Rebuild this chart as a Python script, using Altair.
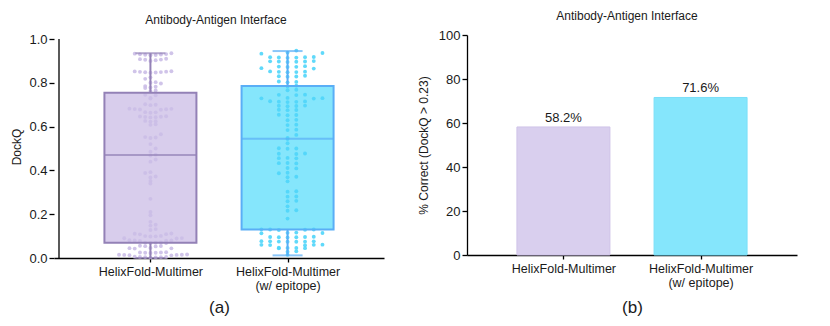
import math
import json
import altair as alt
import pandas as pd

# ---------------- data ----------------
categories = ["HelixFold-Multimer", "HelixFold-Multimer\n(w/ epitope)"]

dockq_plain = [
    0.935, 0.933, 0.931, 0.930, 0.929, 0.928, 0.927, 0.926,
    0.910, 0.908, 0.906, 0.905, 0.903, 0.900,
    0.853, 0.852, 0.851, 0.850, 0.849, 0.848, 0.847, 0.846,
    0.825, 0.818, 0.803, 0.800, 0.797,
    0.785, 0.782, 0.779, 0.776, 0.765, 0.762,
    0.745, 0.743, 0.731, 0.728, 0.702, 0.700, 0.698,
    0.682, 0.681, 0.680, 0.679, 0.678, 0.677,
    0.666, 0.665, 0.663,
    0.647, 0.646, 0.645, 0.644, 0.643, 0.642,
    0.626, 0.625, 0.623, 0.611, 0.608,
    0.565, 0.552, 0.550, 0.548, 0.520, 0.500, 0.485,
    0.472, 0.468,
    0.450, 0.440, 0.392, 0.388, 0.372, 0.368, 0.352, 0.340, 0.270,
    0.210, 0.195, 0.165, 0.152, 0.148, 0.132, 0.128,
    0.112, 0.111, 0.109, 0.108, 0.101, 0.100, 0.099, 0.098, 0.091, 0.090, 0.089,
    0.081, 0.080, 0.080, 0.079, 0.078, 0.071, 0.070, 0.070, 0.069, 0.068,
    0.056, 0.055, 0.054, 0.053, 0.046, 0.045, 0.044, 0.043,
    0.026, 0.025, 0.025, 0.024, 0.024, 0.023,
    0.016, 0.015, 0.015, 0.014, 0.014, 0.013, 0.012,
    0.006, 0.005, 0.005, 0.004, 0.004, 0.003, 0.002,
]

dockq_epitope = [
    0.947, 0.938, 0.936, 0.933,
    0.918, 0.917, 0.916, 0.915, 0.917, 0.914,
    0.899, 0.898, 0.897, 0.896, 0.895, 0.897,
    0.876, 0.874, 0.873, 0.872, 0.867, 0.865,
    0.852, 0.851, 0.849, 0.848, 0.850,
    0.832, 0.830, 0.829, 0.828,
    0.806, 0.804, 0.802,
    0.787, 0.783,
    0.768, 0.766, 0.746, 0.745, 0.744,
    0.731, 0.730, 0.729, 0.728,
    0.716, 0.715, 0.714, 0.713, 0.712,
    0.696, 0.695, 0.694, 0.693,
    0.677, 0.676, 0.675,
    0.654, 0.653, 0.652, 0.631, 0.629,
    0.609, 0.607, 0.586, 0.584, 0.562,
    0.548, 0.543,
    0.524, 0.501, 0.500, 0.499,
    0.477, 0.476, 0.475, 0.457, 0.456, 0.455,
    0.434, 0.433, 0.432, 0.411, 0.409,
    0.389, 0.387, 0.371, 0.369, 0.350,
    0.305, 0.303, 0.281, 0.280, 0.261, 0.259, 0.236,
    0.218, 0.216, 0.180,
    0.131, 0.130, 0.130, 0.129, 0.128,
    0.116, 0.115, 0.114, 0.113,
    0.097, 0.096, 0.096, 0.095, 0.095, 0.094,
    0.077, 0.076, 0.076, 0.075, 0.075, 0.074, 0.074,
    0.061, 0.060, 0.060, 0.059, 0.058,
    0.047, 0.046, 0.046, 0.045, 0.044,
    0.031, 0.029, 0.015,
]

# box summary: min, q1, median, q3, max
box_min = [0.000, 0.012]
box_q1 = [0.070, 0.130]
box_median = [0.470, 0.545]
box_q3 = [0.755, 0.785]
box_max = [0.935, 0.945]

pct_correct = [58.2, 71.6]

# ---------------- style ----------------
FONT = "Liberation Sans"
TXT = "#1a1a1a"
box_fill = ["#d8cdec", "#85e6fc"]
box_stroke = ["#9381b6", "#5aaef6"]
dot_color = ["#cbbee7", "#4fd5fa"]
bar_fill = ["#d9cfee", "#85e6fc"]
bar_stroke = ["#cfc3e8", "#7adff8"]

PLOT_W = 330
LEFT_H = 223
RIGHT_H = 220
X_DOMAIN = [-2 / 3, 5 / 3]
XPX = PLOT_W / (X_DOMAIN[1] - X_DOMAIN[0])
Y_TOP_LEFT = 223 / 219  # 1.0 sits 4px below top of left plot
YPX = LEFT_H / Y_TOP_LEFT
ROW_H = [5.0, 5.0]      # swarm row height (px) per group
COL_D = [5.4, 9.0]      # swarm column spacing (px) per group


def swarm_offsets(values, row_h, col_d):
    """Prism-style swarm: points binned into rows, spread center, right, left..."""
    rows = {}
    for i, v in enumerate(values):
        rows.setdefault(int(math.floor(v * YPX / row_h)), []).append(i)
    xs = [0.0] * len(values)
    for members in rows.values():
        members.sort(key=lambda i: values[i])
        for j, i in enumerate(members):
            k = (j + 1) // 2
            xs[i] = k * col_d if j % 2 == 1 else -k * col_d
    return xs


rows = []
for gi, vals in enumerate([dockq_plain, dockq_epitope]):
    offs = swarm_offsets(vals, ROW_H[gi], COL_D[gi])
    for v, o in zip(vals, offs):
        rows.append({"g": gi, "x": gi + o / XPX, "value": v, "dot": dot_color[gi]})
pts = pd.DataFrame(rows)

box = pd.DataFrame({
    "x": [0, 1], "lo": box_min, "q1": box_q1, "med": box_median,
    "q3": box_q3, "hi": box_max, "fill": box_fill, "stroke": box_stroke,
})

bars = pd.DataFrame({
    "x": [0, 1], "pct": pct_correct, "fill": bar_fill, "stroke": bar_stroke,
    "label": [f"{p:.1f}%" for p in pct_correct],
})

label_expr = "split(" + json.dumps(categories) + "[datum.value], '\\n')"


def x_enc(title, title_pad):
    return alt.X(
        "x:Q",
        scale=alt.Scale(domain=X_DOMAIN, nice=False, zero=False),
        axis=alt.Axis(
            values=[0, 1], labelExpr=label_expr, title=title,
            titleFontSize=17, titlePadding=title_pad, labelFontSize=12.5,
            labelLineHeight=14, labelPadding=3, tickSize=4, labelBaseline="top",
        ),
    )


y_left_scale = alt.Scale(domain=[0, Y_TOP_LEFT], nice=False)
y_left_axis = alt.Axis(values=[0, 0.2, 0.4, 0.6, 0.8, 1.0], format=".1f",
                       title="DockQ", domain=False, titlePadding=5)

XL = x_enc("(a)", 8)

fill_layer = alt.Chart(box).mark_bar(size=92, strokeWidth=0).encode(
    x=XL,
    y=alt.Y("q1:Q", scale=y_left_scale, axis=y_left_axis),
    y2="q3:Q",
    color=alt.Color("fill:N", scale=None),
)
dots = alt.Chart(pts).mark_circle(size=15, opacity=0.9).encode(
    x=XL, y=alt.Y("value:Q", scale=y_left_scale, axis=y_left_axis),
    color=alt.Color("dot:N", scale=None),
)
outline = alt.Chart(box).mark_bar(size=92, fillOpacity=0, strokeWidth=2).encode(
    x=XL, y=alt.Y("q1:Q", scale=y_left_scale, axis=y_left_axis), y2="q3:Q",
    stroke=alt.Stroke("stroke:N", scale=None),
)
wh_lo = alt.Chart(box).mark_rule(strokeWidth=2).encode(
    x=XL, y=alt.Y("lo:Q", scale=y_left_scale, axis=y_left_axis), y2="q1:Q",
    color=alt.Color("stroke:N", scale=None),
)
wh_hi = alt.Chart(box).mark_rule(strokeWidth=2).encode(
    x=XL, y=alt.Y("q3:Q", scale=y_left_scale, axis=y_left_axis), y2="hi:Q",
    color=alt.Color("stroke:N", scale=None),
)
med = alt.Chart(box).mark_tick(orient="horizontal", size=92, thickness=2).encode(
    x=XL, y=alt.Y("med:Q", scale=y_left_scale, axis=y_left_axis),
    color=alt.Color("stroke:N", scale=None),
)
cap_hi = alt.Chart(box).mark_tick(orient="horizontal", size=30, thickness=2).encode(
    x=XL, y=alt.Y("hi:Q", scale=y_left_scale, axis=y_left_axis),
    color=alt.Color("stroke:N", scale=None),
)
cap_lo = alt.Chart(box).mark_tick(orient="horizontal", size=30, thickness=2).encode(
    x=XL, y=alt.Y("lo:Q", scale=y_left_scale, axis=y_left_axis),
    color=alt.Color("stroke:N", scale=None),
)
y_line = alt.Chart(pd.DataFrame({"a": [0]})).mark_rule(color="black", strokeWidth=1.3).encode(
    x=alt.datum(X_DOMAIN[0]), y=alt.datum(0), y2=alt.datum(1),
)

title_common = dict(text="Antibody-Antigen Interface", fontSize=12, fontWeight="normal",
                    font=FONT, color=TXT, offset=6, frame="group")

left = alt.layer(fill_layer, dots, outline, wh_lo, wh_hi, med, cap_hi, cap_lo, y_line).properties(
    width=PLOT_W, height=LEFT_H, title=alt.TitleParams(dx=-3, **title_common),
)

XR = x_enc("(b)", 11)
y_right_scale = alt.Scale(domain=[0, 100], nice=False)
y_right_axis = alt.Axis(values=[0, 20, 40, 60, 80, 100], title="% Correct (DockQ > 0.23)",
                        titlePadding=8)

bar_layer = alt.Chart(bars).mark_bar(size=93, strokeWidth=1).encode(
    x=XR, y=alt.Y("pct:Q", scale=y_right_scale, axis=y_right_axis),
    color=alt.Color("fill:N", scale=None),
    stroke=alt.Stroke("stroke:N", scale=None),
)
text_layer = alt.Chart(bars).mark_text(baseline="bottom", dy=-2, fontSize=13, font=FONT, color=TXT).encode(
    x=XR, y=alt.Y("pct:Q", scale=y_right_scale, axis=y_right_axis), text="label:N",
)

right = alt.layer(bar_layer, text_layer).properties(
    width=PLOT_W, height=RIGHT_H, title=alt.TitleParams(dx=-5, **title_common),
)

chart = alt.hconcat(left, right, spacing=33).properties(
    padding={"left": 2, "top": 2, "right": 5, "bottom": 2},
).configure_view(stroke=None).configure_axis(
    labelFont=FONT, titleFont=FONT, labelFontSize=13, titleFontSize=12,
    titleFontWeight="normal", labelColor=TXT, titleColor=TXT,
    domainColor="black", domainWidth=1.3, tickColor="black", tickWidth=1.3,
    tickSize=5, grid=False,
)

chart.save("out.html", embed_options={"renderer": "svg", "actions": False})
